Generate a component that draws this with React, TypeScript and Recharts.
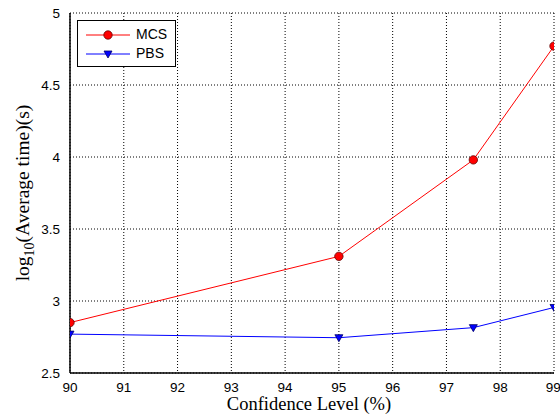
import React from 'react';
import { LineChart, Line, XAxis, YAxis, CartesianGrid } from 'recharts';

const confidence = [90, 95, 97.5, 99];
const mcsTime = [2.85, 3.31, 3.98, 4.77];
const pbsTime = [2.77, 2.745, 2.815, 2.955];
const xTicks = [90, 91, 92, 93, 94, 95, 96, 97, 98, 99];
const yTicks = [2.5, 3, 3.5, 4, 4.5, 5];

const data = confidence.map((c, i) => ({ level: c, mcs: mcsTime[i], pbs: pbsTime[i] }));

const tickFont = { fontFamily: '"Liberation Sans", Arial, sans-serif', fontSize: 13.5, fill: '#000' };
const serif = '"Liberation Serif", "Times New Roman", serif';

function TriangleDot(props: any) {
  const { cx, cy } = props;
  if (cx == null || cy == null) return null;
  const s = 4;
  return (
    <path
      d={`M${cx - s},${cy - s + 1} L${cx + s},${cy - s + 1} L${cx},${cy + s} Z`}
      fill="#0000ff"
      stroke="#000066"
      strokeWidth={0.8}
    />
  );
}

function CircleDot(props: any) {
  const { cx, cy } = props;
  if (cx == null || cy == null) return null;
  return <circle cx={cx} cy={cy} r={4.2} fill="#ff0000" stroke="#660000" strokeWidth={0.8} />;
}

function XLabel(props: any) {
  const vb = props.viewBox || {};
  return (
    <text
      x={vb.x + vb.width / 2 - 3}
      y={vb.y + 36.5}
      textAnchor="middle"
      style={{ fontFamily: serif, fontSize: 18.5, fill: '#000' }}
    >
      Confidence Level (%)
    </text>
  );
}

function YLabel(props: any) {
  const vb = props.viewBox || {};
  const cx = 29;
  const cy = vb.y + vb.height / 2;
  return (
    <text
      x={cx}
      y={cy}
      transform={`rotate(-90, ${cx}, ${cy})`}
      textAnchor="middle"
      style={{ fontFamily: serif, fontSize: 19.5, fill: '#000' }}
    >
      log<tspan fontSize={14} dy={5}>10</tspan>
      <tspan dy={-5}>(Average time)(s)</tspan>
    </text>
  );
}

function LegendBox() {
  const row = (color: string, label: string, marker: React.ReactNode) => (
    <div style={{ display: 'flex', alignItems: 'center', height: 19 }}>
      <svg width={46} height={12} style={{ marginRight: 4 }}>
        <line x1={0} y1={6} x2={44} y2={6} stroke={color} strokeWidth={1} />
        {marker}
      </svg>
      <span>{label}</span>
    </div>
  );
  return (
    <div
      style={{
        position: 'absolute',
        left: 77,
        top: 20,
        border: '1px solid #000',
        background: '#fff',
        width: 89,
        padding: '4px 0 3px 8px',
        fontFamily: '"Liberation Sans", Arial, sans-serif',
        fontSize: 14,
        color: '#000',
        lineHeight: '19px',
      }}
    >
      {row('#ff0000', 'MCS', <circle cx={22} cy={6} r={4.2} fill="#ff0000" stroke="#660000" strokeWidth={0.8} />)}
      {row('#0000ff', 'PBS', <path d="M18,3 L26,3 L22,10 Z" fill="#0000ff" stroke="#000066" strokeWidth={0.8} />)}
    </div>
  );
}

export default function App() {
  return (
    <div style={{ position: 'absolute', left: 0, top: 0, width: 560, height: 416, background: '#fff' }}>
      <LineChart width={560} height={416} data={data} margin={{ top: 13, right: 6, bottom: 13, left: 0 }}>
        <CartesianGrid stroke="#000" strokeDasharray="1 2" strokeWidth={1} />
        <XAxis
          dataKey="level"
          type="number"
          domain={[90, 99]}
          ticks={xTicks}
          allowDataOverflow
          tick={tickFont}
          tickLine={false}
          axisLine={{ stroke: '#000', strokeWidth: 1.5 }}
          tickMargin={3}
          height={30}
          label={<XLabel />}
        />
        <XAxis
          xAxisId="top"
          orientation="top"
          dataKey="level"
          type="number"
          domain={[90, 99]}
          tick={false}
          tickLine={false}
          axisLine={{ stroke: '#000', strokeWidth: 1.5 }}
          height={0}
        />
        <YAxis
          type="number"
          domain={[2.5, 5]}
          ticks={yTicks}
          allowDataOverflow
          tick={tickFont}
          tickLine={false}
          axisLine={{ stroke: '#000', strokeWidth: 1.5 }}
          tickMargin={4}
          width={70}
          label={<YLabel />}
        />
        <YAxis
          yAxisId="right"
          orientation="right"
          type="number"
          domain={[2.5, 5]}
          tick={false}
          tickLine={false}
          axisLine={{ stroke: '#000', strokeWidth: 1.5 }}
          width={0}
        />
        <Line
          dataKey="mcs"
          stroke="#ff0000"
          strokeWidth={1}
          dot={<CircleDot />}
          activeDot={false}
          isAnimationActive={false}
        />
        <Line
          dataKey="pbs"
          stroke="#0000ff"
          strokeWidth={1}
          dot={<TriangleDot />}
          activeDot={false}
          isAnimationActive={false}
        />
      </LineChart>
      <LegendBox />
    </div>
  );
}
